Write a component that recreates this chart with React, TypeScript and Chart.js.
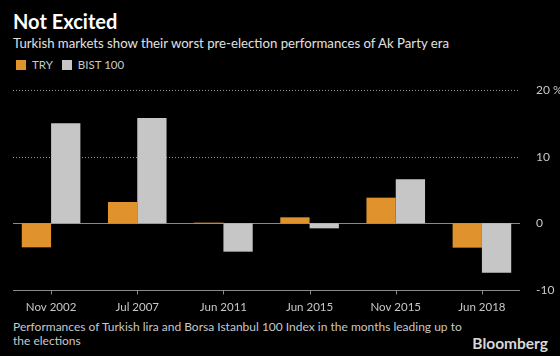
import React, { useEffect, useRef } from "react";
import { Chart, registerables } from "chart.js";

Chart.register(...registerables);

const categories = ["Nov 2002", "Jul 2007", "Jun 2011", "Jun 2015", "Nov 2015", "Jun 2018"];
const tryValues = [-3.6, 3.2, 0.1, 0.9, 3.85, -3.65];
const bistValues = [15.0, 15.8, -4.25, -0.75, 6.6, -7.4];
const yTicks = [20, 10, 0, -10];

const ORANGE = "#e0922c";
const GRAY = "#c6c6c6";
const LINE = "#8a8a8a";
const FONT = "Lato, 'Open Sans', sans-serif";

const linesPlugin = {
  id: "bbgLines",
  beforeDatasetsDraw(chart: any) {
    const { ctx, chartArea, scales } = chart;
    const y = scales.y;
    const x = scales.x;
    const left = chartArea.left + 5;
    const right = chartArea.right - 5;
    ctx.save();
    yTicks.forEach((v) => {
      const py = Math.round(y.getPixelForValue(v)) + 0.5;
      ctx.beginPath();
      ctx.lineWidth = 1;
      if (v === 0 || v === -10) {
        ctx.setLineDash([]);
        ctx.strokeStyle = LINE;
      } else {
        ctx.setLineDash([1, 2]);
        ctx.strokeStyle = "#9a9a9a";
      }
      ctx.moveTo(left, py);
      ctx.lineTo(right, py);
      ctx.stroke();
    });
    ctx.setLineDash([]);
    ctx.strokeStyle = LINE;
    const by = Math.round(y.getPixelForValue(-10)) + 0.5;
    categories.forEach((_, i) => {
      const px = Math.round(x.getPixelForValue(i)) + 0.5;
      ctx.beginPath();
      ctx.moveTo(px, by);
      ctx.lineTo(px, by + 4);
      ctx.stroke();
    });
    ctx.restore();
  },
};

export default function App() {
  const ref = useRef<HTMLCanvasElement | null>(null);
  useEffect(() => {
    document.body.style.margin = "0";
    document.body.style.background = "#000";
    const chart = new Chart(ref.current as HTMLCanvasElement, {
      type: "bar",
      data: {
        labels: categories,
        datasets: [
          { label: "TRY", data: tryValues, backgroundColor: ORANGE, borderWidth: 0 },
          { label: "BIST 100", data: bistValues, backgroundColor: GRAY, borderWidth: 0 },
        ],
      },
      options: {
        animation: false,
        responsive: false,
        maintainAspectRatio: false,
        layout: { padding: { left: 8, top: 12, right: 0, bottom: 0 } },
        plugins: { legend: { display: false }, tooltip: { enabled: false } },
        datasets: { bar: { categoryPercentage: 0.68, barPercentage: 1 } },
        scales: {
          x: {
            grid: { display: false },
            border: { display: false },
            ticks: { color: "#c8c8c8", font: { family: FONT, size: 11.5 }, padding: 2, maxRotation: 0 },
            afterFit: (s: any) => {
              s.height = 28;
            },
          },
          y: {
            position: "right",
            min: -10,
            max: 20,
            grid: { display: false },
            border: { display: false },
            afterBuildTicks: (s: any) => {
              s.ticks = yTicks.map((v) => ({ value: v }));
            },
            ticks: {
              color: "#c8c8c8",
              font: { family: FONT, size: 12 },
              padding: 3,
              callback: (v: any) => (v === 20 ? "20 %" : String(v)),
            },
            afterFit: (s: any) => {
              s.width = 35;
            },
          },
        },
      },
      plugins: [linesPlugin],
    });
    return () => chart.destroy();
  }, []);

  const sq = (c: string) => ({
    display: "inline-block",
    width: 10,
    height: 10,
    background: c,
    marginRight: 6,
    verticalAlign: "-1px",
  });

  return (
    <div
      style={{
        position: "relative",
        width: 560,
        height: 356,
        background: "#000",
        overflow: "hidden",
        fontFamily: FONT,
        color: "#fff",
      }}
    >
      <div style={{ position: "absolute", left: 13, top: 9, fontSize: 20, fontWeight: 700, color: "#fff" }}>
        Not Excited
      </div>
      <div style={{ position: "absolute", left: 13, top: 35, fontSize: 13.2, color: "#e0e0e0" }}>
        Turkish markets show their worst pre-election performances of Ak Party era
      </div>
      <div style={{ position: "absolute", left: 16, top: 58, fontSize: 11.5, color: "#c8c8c8" }}>
        <span style={sq(ORANGE)} />
        <span style={{ marginRight: 9 }}>TRY</span>
        <span style={sq(GRAY)} />
        <span>BIST 100</span>
      </div>
      <canvas ref={ref} width={560} height={240} style={{ position: "absolute", left: 0, top: 78, width: 560, height: 240 }} />
      <div style={{ position: "absolute", left: 13, top: 320, fontSize: 12, lineHeight: "13.5px", color: "#c8c8c8", whiteSpace: "nowrap" }}>
        Performances of Turkish lira and Borsa Istanbul 100 Index in the months leading up to
        <br />
        the elections
      </div>
      <div style={{ position: "absolute", right: 12, top: 334, fontSize: 15.5, fontWeight: 700, color: "#d8d8d8" }}>
        Bloomberg
      </div>
    </div>
  );
}
